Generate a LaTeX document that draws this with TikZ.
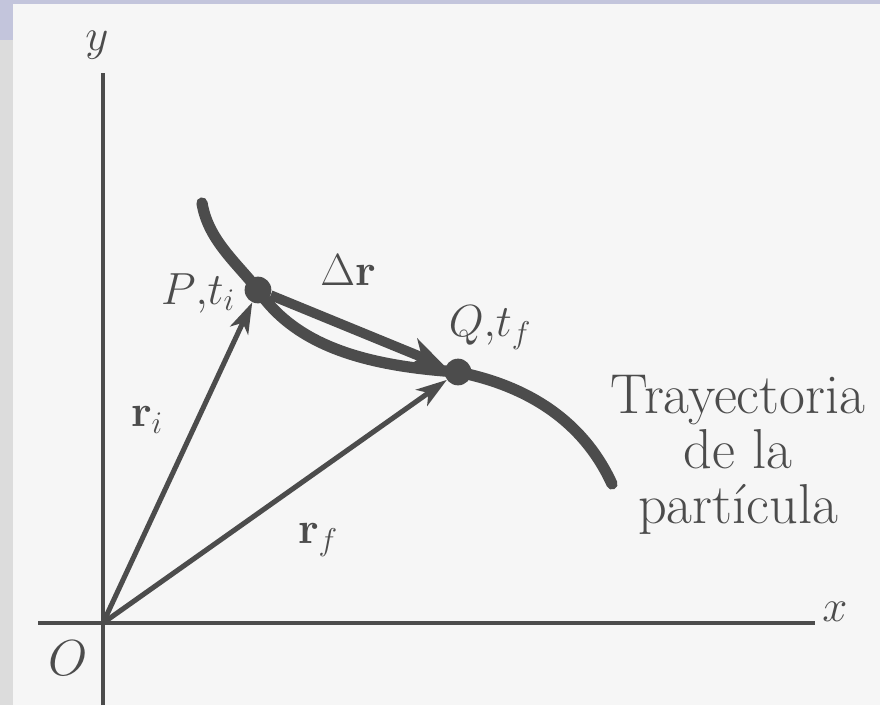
\RequirePackage{fix-cm}
\documentclass[tikz,border=0pt]{standalone}
\usepackage{xcolor}
\usepackage{tikz}
\usetikzlibrary{arrows.meta, calc}
\definecolor{InkGray}{HTML}{4C4C4C}
\definecolor{PaperWhite}{HTML}{F6F6F6}
\definecolor{BandLilac}{HTML}{C3C5DC}
\definecolor{BandGray}{HTML}{DCDCDC}

\begin{document}
\begin{tikzpicture}[
  x=0.025cm, y=-0.025cm,
  axisline/.style={draw=InkGray, line width=2.8pt},
  vecarrow/.style={draw=InkGray, line width=3.6pt, -{Stealth[length=22pt, width=14pt, inset=6pt]}},
  pathline/.style={draw=InkGray, line width=8pt, line cap=round},
  disparrow/.style={draw=InkGray, line width=7pt, -{Stealth[length=26pt, width=22pt, inset=8pt]}},
  pointdot/.style={circle, fill=InkGray, inner sep=0pt, minimum size=19pt},
  lbl/.style={text=InkGray, font=\fontsize{32}{38}\selectfont, inner sep=0pt}
  ]
  % Background
  \useasboundingbox (0,0) rectangle (880,705);
  \fill[PaperWhite] (0,0) rectangle (880,705);
  \fill[BandLilac] (0,0) rectangle (880,4);
  \fill[BandLilac] (0,0) rectangle (13,40);
  \fill[BandGray] (0,40) rectangle (13,705);
  % Axes
  \coordinate (O) at (103,623);
  \coordinate (xstart) at (38,623);
  \coordinate (xend) at (815,623);
  \coordinate (ystart) at (103,705);
  \coordinate (yend) at (103,73);
  \draw[axisline] (xstart) -- (xend);
  \draw[axisline] (ystart) -- (yend);
  \node[lbl] (xlabel) at (835,612) {$x$};
  \node[lbl] (ylabel) at (97,45) {$y$};
  \node[lbl, font=\fontsize{36}{40}\selectfont] (Olabel) at (68,658) {$O$};
  % Trajectory
  \coordinate (A) at (202,203);
  \coordinate (E) at (612,484);
  \node[pointdot] (P) at (258,290) {};
  \node[pointdot] (Q) at (458,372) {};
  \draw[pathline] (A) .. controls (208,240) and (237,263) .. (P.center)
    .. controls (296,346) and (366,366) .. (Q.center)
    .. controls (538,388) and (587,429) .. (E);
  % Vectors
  \draw[vecarrow] (O) -- (P);
  \draw[vecarrow] (O) -- (Q);
  \draw[disparrow] (P) -- (Q);
  % Labels
  \node[lbl] (Plabel) at (198,293) {$P{,}t_i$};
  \node[lbl] (Qlabel) at (490,328) {$Q{,}t_f$};
  \node[lbl] (drlabel) at (348,270) {$\Delta\mathbf{r}$};
  \node[lbl] (rilabel) at (147,420) {$\mathbf{r}_i$};
  \node[lbl] (rflabel) at (318,540) {$\mathbf{r}_f$};
  \node[lbl, align=center, font=\fontsize{40}{39}\selectfont] (trajlabel) at (738,455) {Trayectoria\\de la\\partícula};
\end{tikzpicture}
\end{document}
